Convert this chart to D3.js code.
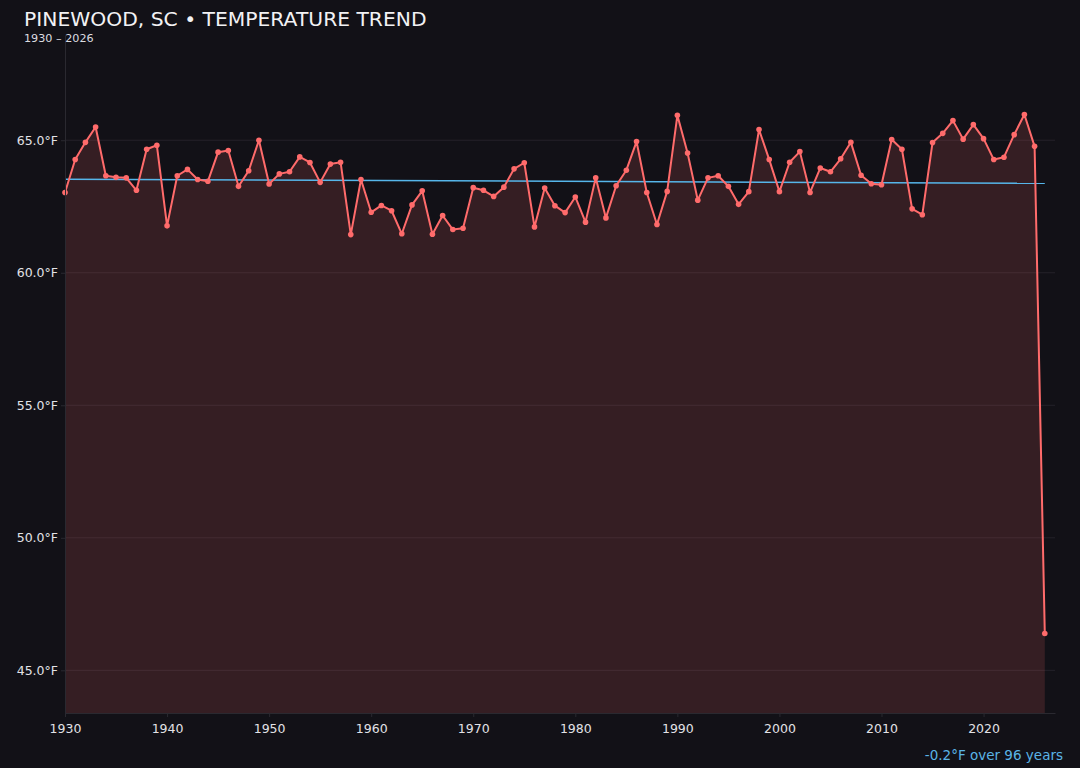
<!DOCTYPE html>
<html>
<head>
<meta charset="utf-8">
<script src="https://cdn.jsdelivr.net/npm/d3@7"></script>
<style>
  html, body { margin: 0; padding: 0; background: #121117; }
  svg { display: block; font-family: "DejaVu Sans", sans-serif; }
</style>
</head>
<body>
<div class="chart"></div>
<script>
// annual mean temperature
let years = d3.range(1930, 2027);
let temps = [
  63.03, 64.27, 64.92, 65.50, 63.66, 63.60, 63.58, 63.11, 64.66, 64.81,
  61.77, 63.66, 63.90, 63.52, 63.45, 64.55, 64.61, 63.26, 63.85, 65.00,
  63.35, 63.73, 63.81, 64.37, 64.16, 63.41, 64.10, 64.17, 61.44, 63.52,
  62.28, 62.54, 62.34, 61.47, 62.56, 63.09, 61.45, 62.16, 61.63, 61.68,
  63.21, 63.11, 62.88, 63.23, 63.92, 64.15, 61.73, 63.20, 62.53, 62.27,
  62.86, 61.91, 63.58, 62.07, 63.28, 63.87, 64.95, 63.03, 61.82, 63.07,
  65.94, 64.52, 62.74, 63.58, 63.66, 63.26, 62.58, 63.06, 65.40, 64.27,
  63.06, 64.17, 64.57, 63.03, 63.95, 63.81, 64.30, 64.92, 63.68, 63.36,
  63.32, 65.03, 64.66, 62.41, 62.19, 64.91, 65.26, 65.74, 65.04, 65.59,
  65.06, 64.27, 64.36, 65.21, 65.97, 64.77, 46.39
];
let yTicks = [45, 50, 55, 60, 65];
let xTicks = d3.range(1930, 2030, 10);
let title = "PINEWOOD, SC \u2022 TEMPERATURE TREND";
let subtitle = "1930 \u2013 2026";
let trendLabel = "-0.2\u00b0F over 96 years";

let data = years.map((yr, i) => ({ year: yr, temp: temps[i] }));

var width = 1080,
    height = 768;

var x = d3.scaleLinear()
    .domain([1930, 2027])
    .range([65, 1055]);

var y = d3.scaleLinear()
    .domain([d3.min(temps) - 3, d3.max(temps) + 3])
    .range([713, 35]);

var svg = d3.select(".chart")
    .append("svg")
    .attr("width", width)
    .attr("height", height);

svg.append("rect")
    .attr("width", width)
    .attr("height", height)
    .attr("fill", "#121117");

// horizontal grid
svg.append("g")
  .selectAll("line")
  .data(yTicks)
  .enter()
  .append("line")
    .attr("x1", x.range()[0])
    .attr("x2", x.range()[1])
    .attr("y1", d => y(d))
    .attr("y2", d => y(d))
    .attr("stroke", "#24222a")
    .attr("stroke-width", 1);

var area = d3.area()
    .x(d => x(d.year))
    .y0(y.range()[0])
    .y1(d => y(d.temp));

var line = d3.line()
    .x(d => x(d.year))
    .y(d => y(d.temp));

svg.append("path")
    .datum(data)
    .attr("d", area)
    .attr("fill", "#ff6b6b")
    .attr("fill-opacity", 0.15);

// least squares trend
let mx = d3.mean(years), my = d3.mean(temps);
let slope = d3.sum(data, d => (d.year - mx) * (d.temp - my)) / d3.sum(data, d => (d.year - mx) * (d.year - mx));
let icpt = my - slope * mx;
let trend = [years[0], years[years.length - 1]].map(yr => ({ year: yr, temp: icpt + slope * yr }));

svg.append("path")
    .datum(trend)
    .attr("d", line)
    .attr("fill", "none")
    .attr("stroke", "#56b6ea")
    .attr("stroke-width", 1.5);

svg.append("path")
    .datum(data)
    .attr("d", line)
    .attr("fill", "none")
    .attr("stroke", "#ff6b6b")
    .attr("stroke-width", 2)
    .attr("stroke-linejoin", "round");

svg.append("g")
  .selectAll("circle")
  .data(data)
  .enter()
  .append("circle")
    .attr("cx", d => x(d.year))
    .attr("cy", d => y(d.temp))
    .attr("r", 2.8)
    .attr("fill", "#ff6b6b");

// axes
var xAxis = svg.append("g")
    .attr("transform", "translate(0," + y.range()[0] + ")")
    .call(d3.axisBottom(x).tickValues(xTicks).tickFormat(d3.format("d")).tickSize(4).tickSizeOuter(0));

var yAxis = svg.append("g")
    .attr("transform", "translate(" + x.range()[0] + ",0)")
    .call(d3.axisLeft(y).tickValues(yTicks).tickFormat(d => d.toFixed(1) + "\u00b0F").tickSize(4).tickSizeOuter(0));

[xAxis, yAxis].forEach(function(g) {
  g.select(".domain").attr("stroke", "#2a2930");
  g.selectAll(".tick line").attr("stroke", "#2a2930");
  g.selectAll(".tick text")
    .attr("fill", "#e2e2e6")
    .style("font-size", "12.5px")
    .style("font-family", "DejaVu Sans, sans-serif");
});
xAxis.selectAll(".tick text").attr("dy", "1.05em");

// titles
svg.append("text")
    .attr("x", 24)
    .attr("y", 26)
    .attr("fill", "#f2f2f4")
    .style("font-size", "20.3px")
    .text(title);

svg.append("text")
    .attr("x", 24)
    .attr("y", 42)
    .attr("fill", "#dcdce0")
    .style("font-size", "11.2px")
    .text(subtitle);

svg.append("text")
    .attr("x", 1063)
    .attr("y", 760)
    .attr("text-anchor", "end")
    .attr("fill", "#5ab4e6")
    .style("font-size", "13.5px")
    .text(trendLabel);
</script>
</body>
</html>
